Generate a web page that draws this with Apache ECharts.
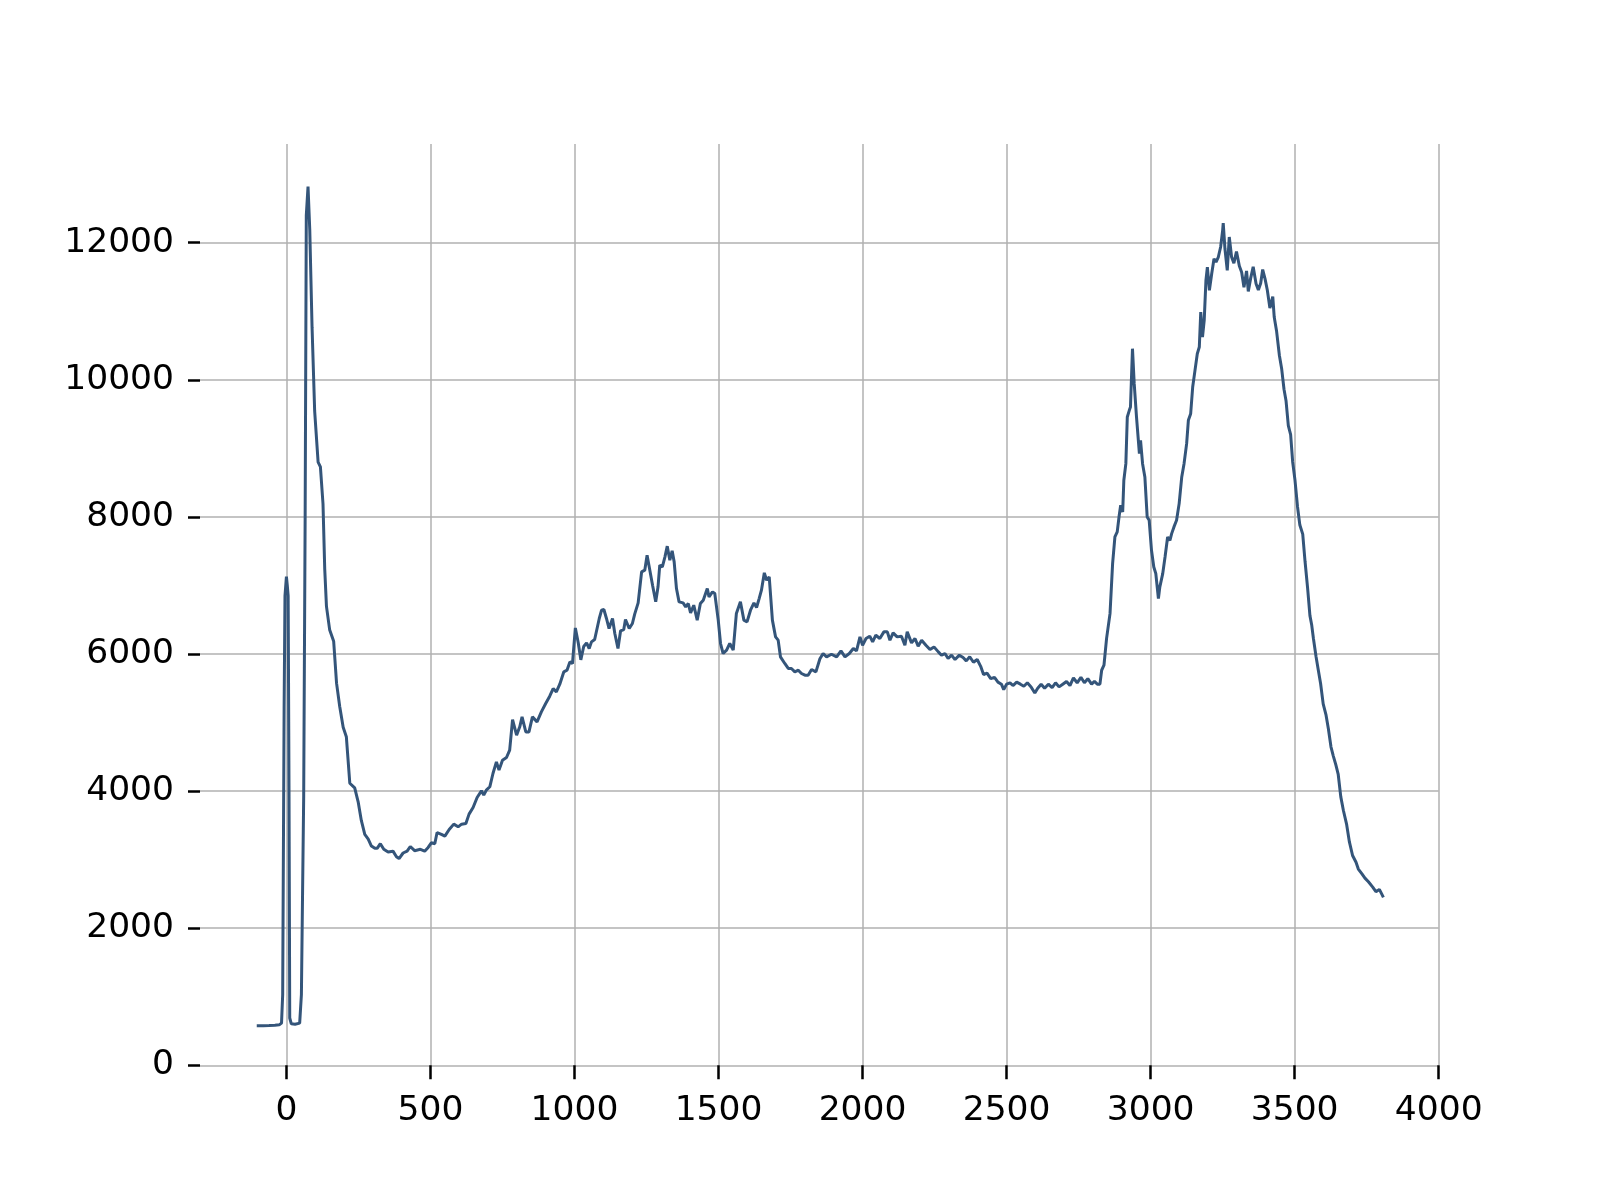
<!DOCTYPE html>
<html>
<head>
<meta charset="utf-8">
<script src="https://cdn.jsdelivr.net/npm/echarts@6/dist/echarts.min.js"></script>
<style>
html,body{margin:0;padding:0;background:#fff;}
#chart{width:1600px;height:1200px;}
</style>
</head>
<body>
<div id="chart"></div>
<script>
const xTicks = [0, 500, 1000, 1500, 2000, 2500, 3000, 3500, 4000];
const yTicks = [0, 2000, 4000, 6000, 8000, 10000, 12000];

const xValues = [
-103,-80,-60,-40,-25,-17,-13,-8,-5,0,3,6,9,11.5,17,30,46,52,56,60,65,69,75,81,89,98,110,118,127,133,139,150,164,174,185,197,208,220,237,249,260,272,284,295,307,315,326,338,353,370,382,391,405,419,430,445,465,480,492,503,515,523,538,550,565,581,596,608,623,634,648,662,677,685,694,706,717,729,738,750,764,775,785,790,799,810,818,831,842,854,870,885,900,914,926,937,949,963,974,984,993,1003,1013,1022,1032,1042,1051,1059,1070,1086,1094,1102,1111,1120,1132,1140,1151,1160,1171,1177,1190,1201,1209,1221,1233,1244,1252,1259,1271,1282,1290,1296,1305,1314,1322,1331,1339,1346,1354,1363,1377,1386,1395,1403,1414,1426,1437,1447,1461,1467,1479,1487,1499,1507,1516,1528,1539,1551,1562,1576,1588,1599,1611,1623,1632,1641,1649,1659,1667,1676,1687,1698,1707,1715,1730,1742,1753,1765,1777,1788,1800,1811,1823,1838,1852,1863,1875,1892,1910,1925,1939,1954,1968,1979,1991,2000,2012,2025,2035,2046,2060,2074,2086,2095,2106,2120,2135,2147,2155,2170,2182,2193,2205,2220,2234,2248,2263,2274,2286,2297,2309,2321,2336,2349,2360,2372,2385,2398,2410,2420,2432,2445,2458,2470,2482,2490,2500,2512,2522,2535,2548,2560,2572,2585,2598,2608,2620,2632,2645,2658,2670,2682,2695,2708,2720,2732,2745,2758,2770,2782,2795,2805,2815,2824,2830,2838,2847,2859,2868,2876,2884,2891,2896,2903,2907,2914,2919,2926,2930,2937,2943,2951,2961,2965,2972,2980,2988,2995,3003,3011,3018,3027,3032,3042,3050,3059,3067,3073,3081,3090,3099,3108,3116,3125,3131,3139,3146,3154,3162,3169,3174,3180,3186,3192,3197,3204,3212,3220,3227,3235,3243,3250,3252,3258,3266,3273,3281,3289,3298,3308,3316,3324,3333,3339,3347,3356,3366,3374,3382,3389,3397,3405,3414,3424,3429,3437,3447,3455,3463,3470,3478,3486,3493,3501,3510,3518,3528,3536,3545,3553,3559,3565,3574,3582,3590,3599,3609,3617,3626,3634,3643,3651,3660,3669,3680,3690,3701,3713,3721,3733,3744,3756,3771,3782,3794,3802,3808
];
const yValues = [
578,578,580,585,590,615,1030,5200,6848,7129,7000,6848,4000,690,605,600,615,1030,2500,3940,8000,12400,12818,12193,10768,9546,8799,8731,8188,7238,6695,6355,6186,5575,5235,4930,4794,4115,4047,3844,3572,3369,3301,3199,3165,3165,3233,3151,3111,3124,3043,3016,3097,3124,3192,3131,3151,3124,3178,3246,3233,3396,3369,3343,3440,3518,3479,3518,3528,3664,3761,3907,4004,3941,4014,4063,4257,4427,4306,4451,4490,4597,5044,5059,4816,4938,5083,4864,4864,5083,5010,5156,5278,5385,5496,5448,5560,5740,5764,5885,5861,6380,6165,5915,6110,6163,6080,6177,6212,6518,6639,6649,6518,6372,6518,6299,6080,6338,6357,6503,6372,6445,6581,6746,7198,7223,7441,7281,7004,6761,6980,7296,7271,7417,7573,7368,7505,7344,6955,6761,6746,6688,6736,6600,6712,6494,6736,6785,6955,6834,6907,6882,6494,6153,6007,6056,6153,6056,6591,6761,6494,6469,6639,6746,6678,6809,6931,7184,7077,7125,6494,6250,6202,5959,5862,5789,5789,5740,5764,5716,5691,5691,5774,5740,5930,6007,5958,5997,5958,6046,5958,6007,6080,6046,6250,6128,6226,6260,6177,6274,6226,6323,6323,6201,6308,6250,6260,6128,6323,6162,6226,6114,6201,6128,6065,6104,6031,5983,6007,5934,5983,5919,5983,5948,5900,5960,5880,5920,5820,5700,5720,5640,5660,5590,5560,5480,5560,5580,5540,5590,5560,5530,5580,5520,5430,5500,5560,5500,5560,5510,5580,5520,5560,5600,5540,5650,5580,5660,5580,5640,5560,5600,5560,5560,5763,5836,6225,6589,7319,7707,7781,8024,8169,8072,8534,8777,9457,9555,9603,10454,9944,9457,8923,9117,8777,8583,8000,7951,7513,7270,7173,6808,6979,7173,7416,7707,7659,7756,7854,7951,8194,8583,8777,9069,9409,9506,9895,10138,10381,10478,10989,10624,10867,11450,11645,11305,11548,11766,11718,11791,11937,12180,12287,11912,11596,12083,11791,11700,11872,11660,11570,11350,11588,11290,11476,11650,11400,11311,11410,11608,11476,11311,11047,11212,10915,10717,10354,10156,9862,9696,9333,9201,8805,8541,8145,7881,7749,7353,6957,6560,6428,6230,5966,5768,5570,5273,5108,4910,4646,4514,4382,4249,3919,3721,3523,3259,3061,2962,2863,2797,2731,2678,2599,2533,2566,2500,2450
];

const seriesData = xValues.map((x, i) => [x, yValues[i]]);

const chart = echarts.init(document.getElementById('chart'), null, {renderer: 'canvas'});
const labelFont = {fontSize: 34.5, color: '#000', fontFamily: 'DejaVu Sans', formatter: v => String(v)};
chart.setOption({
  animation: false,
  backgroundColor: '#fff',
  grid: {left: 200, right: 161.3, top: 144, bottom: 134.7, containLabel: false},
  xAxis: {
    type: 'value', min: -300, max: 4000,
    axisLine: {show: false, onZero: false},
    axisTick: {show: true, length: 14, customValues: xTicks, lineStyle: {color: '#000', width: 2.5}},
    axisLabel: Object.assign({customValues: xTicks, margin: 28}, labelFont),
    splitLine: {show: true, lineStyle: {color: '#b0b0b0', width: 1.5}}
  },
  yAxis: {
    type: 'value', min: 0, max: 13440,
    axisLine: {show: false, onZero: false},
    axisTick: {show: true, length: 12, customValues: yTicks, lineStyle: {color: '#000', width: 2.5}},
    axisLabel: Object.assign({customValues: yTicks, margin: 26}, labelFont),
    splitLine: {show: true, lineStyle: {color: '#b0b0b0', width: 1.5}}
  },
  series: [{
    type: 'line',
    data: seriesData,
    showSymbol: false,
    symbol: 'none',
    lineStyle: {color: '#34557a', width: 3},
    clip: true
  }]
});
</script>
</body>
</html>
